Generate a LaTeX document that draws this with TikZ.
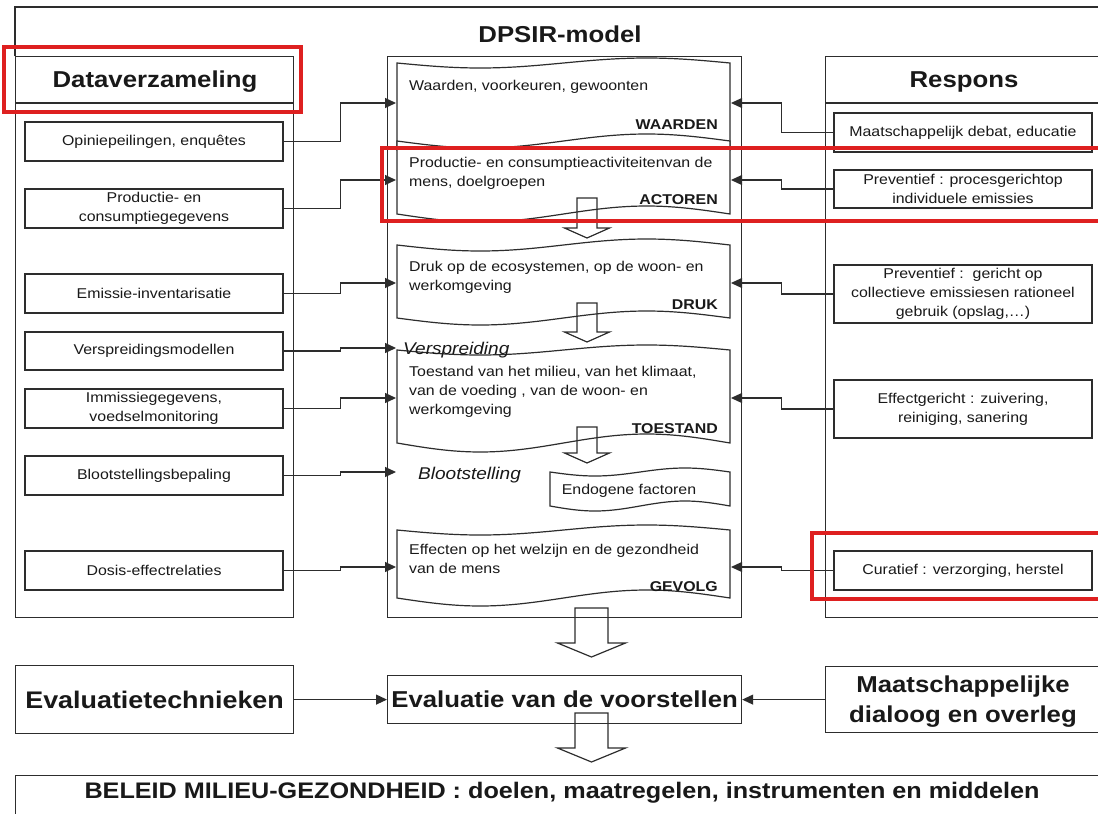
\documentclass[tikz,border=0pt]{standalone}
\usepackage{fontspec}
\setmainfont{Liberation Sans}[FakeStretch=1.12]
\usetikzlibrary{arrows.meta}
\definecolor{ln}{RGB}{45,45,45}
\definecolor{tx}{RGB}{25,25,25}
\definecolor{hl}{RGB}{222,32,32}
\newcommand\fsz[2]{\fontsize{#1}{#2}\selectfont}
% scroll: x0 x1 yTop ampTop yBot ampBot
\newcommand\scrollshape[6]{%
  \draw[scr] (#1,#3) sin ({#1+0.25*(#2-#1)},{#3+#4}) cos ({#1+0.5*(#2-#1)},#3)
    sin ({#1+0.75*(#2-#1)},{#3-#4}) cos (#2,#3) -- (#2,#5)
    sin ({#1+0.75*(#2-#1)},{#5-#6}) cos ({#1+0.5*(#2-#1)},#5)
    sin ({#1+0.25*(#2-#1)},{#5+#6}) cos (#1,#5) -- cycle;}
% block arrow down: xc halfshaft halfhead top base tip
\newcommand\blockdn[6]{%
  \draw[blk] ({#1-#2},#4) -- ({#1-#2},#5) -- ({#1-#3},#5) -- (#1,#6)
    -- ({#1+#3},#5) -- ({#1+#2},#5) -- ({#1+#2},#4) -- cycle;}
\begin{document}
\begin{tikzpicture}[x=1pt,y=-1pt,
  every node/.style={text=tx, font=\fsz{14.2}{19}},
  box/.style={draw=ln, line width=1.2pt, inner sep=0pt, align=center},
  conn/.style={draw=ln, line width=1.1pt, -{Triangle[length=11pt,width=10pt]}},
  lbl/.style={inner sep=0pt, anchor=east, font=\fsz{14.2}{19}\bfseries},
  txt/.style={inner sep=0pt, anchor=west, align=left},
  hdr/.style={inner sep=0pt, font=\fsz{23}{28}\bfseries},
  ital/.style={inner sep=0pt, anchor=west, font=\fsz{17}{20}\itshape},
  hlbox/.style={draw=hl, line width=3.5pt},
  blk/.style={draw=ln, line width=1.2pt, line join=miter},
  scr/.style={draw=ln, fill=white, line width=1.2pt},
  frm/.style={draw=ln, line width=1.2pt}
]
\useasboundingbox (0,0) rectangle (1098,814);
\fill[white] (0,0) rectangle (1098,814);

% frames
\draw[frm] (15,56) -- (15,7) -- (1110,7);
\node[box, anchor=north west, minimum width=278pt, minimum height=561pt] (colL) at (15,56) {};
\draw[frm] (15,103) -- (293,103);
\node[box, anchor=north west, minimum width=354pt, minimum height=561pt] (colC) at (387,56) {};
\node[box, anchor=north west, minimum width=290pt, minimum height=561pt] (colR) at (825,56) {};
\draw[frm] (825,103) -- (1115,103);

% headers
\node[hdr] (hDPSIR) at (560,34) {DPSIR-model};
\node[hdr] (hData) at (155,82) {Dataverzameling};
\node[hdr] (hResp) at (964,82) {Respons};

% left boxes
\node[box, minimum width=258pt, minimum height=39pt] (L1) at (154,141.5) {Opiniepeilingen, enquêtes};
\node[box, minimum width=258pt, minimum height=39pt] (L2) at (154,208.5) {Productie- en\\consumptiegegevens};
\node[box, minimum width=258pt, minimum height=39pt] (L3) at (154,293.5) {Emissie-inventarisatie};
\node[box, minimum width=258pt, minimum height=38pt] (L4) at (154,351) {Verspreidingsmodellen};
\node[box, minimum width=258pt, minimum height=39pt] (L5) at (154,408.5) {Immissiegegevens,\\voedselmonitoring};
\node[box, minimum width=258pt, minimum height=39pt] (L6) at (154,475.5) {Blootstellingsbepaling};
\node[box, minimum width=258pt, minimum height=39pt] (L7) at (154,570.5) {Dosis-effectrelaties};

% right boxes
\node[box, minimum width=258pt, minimum height=39pt] (R1) at (963,132.5) {Maatschappelijk debat, educatie};
\node[box, minimum width=258pt, minimum height=38pt] (R2) at (963,189) {Preventief : procesgerichtop\\individuele emissies};
\node[box, minimum width=258pt, minimum height=58pt] (R3) at (963,294) {Preventief :\ \ gericht op\\collectieve emissiesen rationeel\\gebruik (opslag,…)};
\node[box, minimum width=258pt, minimum height=58pt] (R4) at (963,409) {Effectgericht : zuivering,\\reiniging, sanering};
\node[box, minimum width=258pt, minimum height=39pt] (R5) at (963,570.5) {Curatief : verzorging, herstel};

% scrolls
\scrollshape{397}{730}{63}{5}{150}{8}
\scrollshape{397}{730}{141}{7}{214}{8}
\scrollshape{397}{730}{245}{6}{318}{7}
\scrollshape{397}{730}{350}{5}{443}{9}
\scrollshape{550}{730}{472}{4}{506}{5}
\scrollshape{397}{730}{530}{5}{598}{8}

% scroll texts
\node[txt] (tW) at (409,87) {Waarden, voorkeuren, gewoonten};
\node[lbl] (lW) at (718,125) {WAARDEN};
\node[txt] (tA) at (409,173) {Productie- en consumptieactiviteitenvan de\\mens, doelgroepen};
\node[lbl] (lA) at (718,200) {ACTOREN};
\node[txt] (tD) at (409,277.5) {Druk op de ecosystemen, op de woon- en\\werkomgeving};
\node[lbl] (lD) at (718,305) {DRUK};
\node[ital] (iV) at (403,350) {Verspreiding};
\node[txt] (tT) at (409,391.5) {Toestand van het milieu, van het klimaat,\\van de voeding , van de woon- en\\werkomgeving};
\node[lbl] (lT) at (718,429) {TOESTAND};
\node[ital] (iB) at (418,475) {Blootstelling};
\node[inner sep=0pt] (tE) at (629,491) {Endogene factoren};
\node[txt] (tG) at (409,559) {Effecten op het welzijn en de gezondheid\\van de mens};
\node[lbl] (lG) at (718,587) {GEVOLG};

% arrow targets
\coordinate (aL1) at (396,103);
\coordinate (aL2) at (396,180);
\coordinate (aL3) at (396,283);
\coordinate (aL4) at (396,348);
\coordinate (aL5) at (396,398);
\coordinate (aL6) at (396,472);
\coordinate (aL7) at (396,567);
\coordinate (aR1) at (731,103);
\coordinate (aR2) at (731,180);
\coordinate (aR3) at (731,283);
\coordinate (aR4) at (731,398);
\coordinate (aR5) at (731,567);

\draw[conn] (L1.east) -- ++(57,0) |- (aL1);
\draw[conn] (L2.east) -- ++(57,0) |- (aL2);
\draw[conn] (L3.east) -- ++(57,0) |- (aL3);
\draw[conn] (L4.east) -- ++(57,0) |- (aL4);
\draw[conn] (L5.east) -- ++(57,0) |- (aL5);
\draw[conn] (L6.east) -- ++(57,0) |- (aL6);
\draw[conn] (L7.east) -- ++(57,0) |- (aL7);
\draw[conn] (R1.west) -- ++(-52,0) |- (aR1);
\draw[conn] (R2.west) -- ++(-52,0) |- (aR2);
\draw[conn] (R3.west) -- ++(-52,0) |- (aR3);
\draw[conn] (R4.west) -- ++(-52,0) |- (aR4);
\draw[conn] (R5.west) -- ++(-52,0) |- (aR5);

% bottom boxes
\node[box, anchor=north west, minimum width=278pt, minimum height=68pt, font=\fsz{24}{28}\bfseries] (E1) at (15,665) {Evaluatietechnieken};
\node[box, anchor=north west, minimum width=354pt, minimum height=48pt, font=\fsz{23}{28}\bfseries] (E2) at (387,675) {Evaluatie van de voorstellen};
\node[box, anchor=north west, minimum width=290pt, minimum height=66pt, font=\fsz{23}{30}\bfseries] (E3) at (825,666) {};
\node[inner sep=0pt, align=center, font=\fsz{23}{30}\bfseries] (E3t) at (963,702) {Maatschappelijke\\dialoog en overleg};
\node[box, anchor=north west, minimum width=1100pt, minimum height=60pt] (B) at (15,775) {};
\node[inner sep=0pt, font=\fsz{22.5}{28}\bfseries] (Bt) at (562,793) {BELEID MILIEU-GEZONDHEID : doelen, maatregelen, instrumenten en middelen};

\draw[conn] (E1.east) -- (E2.west);
\draw[conn] (E3.west) -- (E2.east);

% block arrows
\blockdn{587}{10}{22.5}{198}{228}{238}
\blockdn{587}{10}{22.5}{303}{332}{342}
\blockdn{587}{10}{22.5}{427}{453}{463}
\blockdn{591.5}{16.5}{34}{608}{643}{657}
\blockdn{591.5}{16.5}{34}{713}{748}{762}

% highlights
\draw[hlbox] (4,47) rectangle (301,112);
\draw[hlbox] (382,148) rectangle (1115,221);
\draw[hlbox] (812,533) rectangle (1115,599);
\end{tikzpicture}
\end{document}
